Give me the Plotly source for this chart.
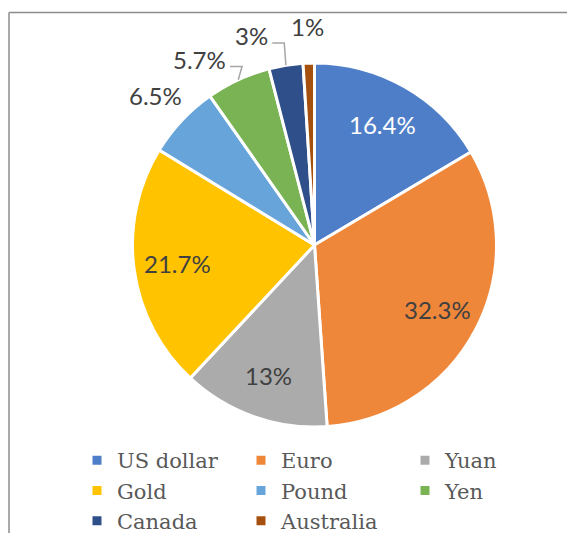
import math
import plotly.graph_objects as go

labels = ["US dollar", "Euro", "Yuan", "Gold", "Pound", "Yen", "Canada", "Australia"]
values = [16.4, 32.3, 13, 21.7, 6.5, 5.7, 3, 1]
colors = ["#4F7EC8", "#EF873A", "#ABABAB", "#FFC300", "#66A4DA", "#7AB353", "#2E4F8A", "#A5500F"]
label_colors = ["#FFFFFF", "#404040", "#404040", "#404040", "#404040", "#404040", "#404040", "#404040"]
outside = [False, False, False, False, True, True, True, True]

W, H = 567, 533
DOM_X = (132, 497)   # pie domain, px from left
DOM_Y = (63, 427)    # pie domain, px from top
FS = 24

fig = go.Figure(go.Pie(
    labels=labels, values=values, sort=False, direction="clockwise", rotation=0,
    marker=dict(colors=colors, line=dict(color="white", width=3)),
    textinfo="none",
    domain=dict(x=[DOM_X[0] / W, DOM_X[1] / W], y=[(H - DOM_Y[1]) / H, (H - DOM_Y[0]) / H]),
    hoverinfo="label+percent",
))

# geometry of the pie in pixels (as plotly lays it out)
cx = (DOM_X[0] + DOM_X[1]) / 2
cy = (DOM_Y[0] + DOM_Y[1]) / 2
R = min(DOM_X[1] - DOM_X[0], DOM_Y[1] - DOM_Y[0]) / 2
total = sum(values)
mids = []
acc = 0
for v in values:
    mids.append((acc + v / 2) / total * 360)
    acc += v


def pt(angle, rad):
    a = math.radians(angle)
    return cx + rad * math.sin(a), cy - rad * math.cos(a)


def px2paper(x, y):
    return x / W, 1 - y / H


def text_w(s):
    nd = sum(c.isdigit() for c in s)
    return FS * (0.56 * nd + 0.25 * s.count(".") + 0.85)


annotations = []
shapes = []
texts = [f"{v:g}%" for v in values]


def add_label(i, x, y):
    px, py = px2paper(x, y)
    annotations.append(dict(x=px, y=py, xref="paper", yref="paper", text=texts[i], showarrow=False,
                            xanchor="center", yanchor="middle",
                            font=dict(family="Lato", size=FS, color=label_colors[i])))


# inside labels
for i, v in enumerate(values):
    if not outside[i]:
        add_label(i, *pt(mids[i], 0.76 * R))

# outside labels: resolve collisions going counter-clockwise from the last slice
GAP = 15
prev = None
placed = {}
for i in reversed(range(len(values))):
    if not outside[i]:
        continue
    ang = mids[i] if prev is None else min(mids[i], prev - GAP)
    placed[i] = ang
    prev = ang

for i, ang in placed.items():
    x, y = pt(ang, 1.2 * R)
    add_label(i, x, y)
    if abs(ang - mids[i]) > 1:
        sx = x + text_w(texts[i]) / 2 + 4
        sy = y + 7
        ex, ey = pt(mids[i], R)
        path = f"M {sx / W},{1 - sy / H} L {(sx + 12) / W},{1 - sy / H} L {ex / W},{1 - ey / H}"
        shapes.append(dict(type="path", xref="paper", yref="paper", path=path,
                           line=dict(color="#A6A6A6", width=1.5)))

shapes += [
    dict(type="line", xref="paper", yref="paper", x0=9 / W, x1=1, y0=(H - 12.5) / H,
         y1=(H - 12.5) / H, line=dict(color="#8C8C8C", width=1.5)),
    dict(type="line", xref="paper", yref="paper", x0=9 / W, x1=9 / W, y0=0,
         y1=(H - 12.5) / H, line=dict(color="#8C8C8C", width=1.5)),
]

fig.update_layout(
    width=W, height=H, margin=dict(l=0, r=0, t=0, b=0, autoexpand=False),
    paper_bgcolor="white", plot_bgcolor="white",
    showlegend=True,
    legend=dict(orientation="h", x=77 / W, xanchor="left", y=(H - 440) / H, yanchor="top",
                entrywidth=119, entrywidthmode="pixels",
                font=dict(family="DejaVu Serif", size=21, color="#595959"),
                tracegroupgap=0),
    annotations=annotations,
    shapes=shapes,
)
fig.write_html("out.html")
